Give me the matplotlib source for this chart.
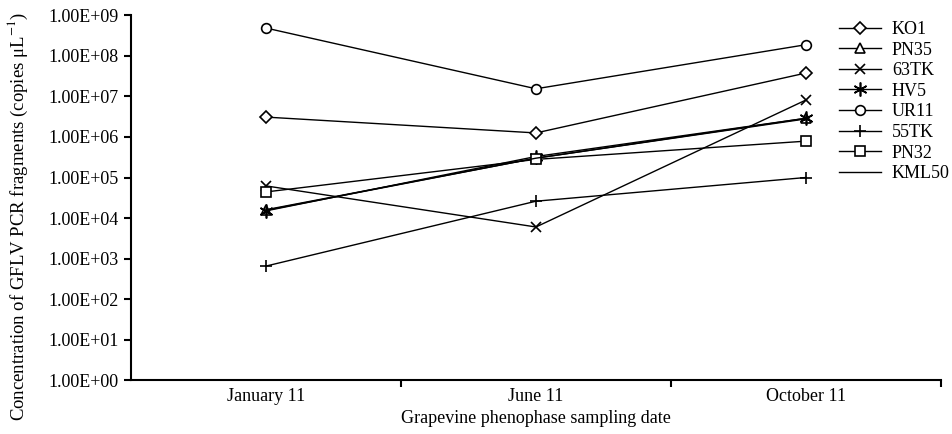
import matplotlib
matplotlib.use('Agg')
import matplotlib.pyplot as plt
from matplotlib.ticker import FixedLocator, FuncFormatter, NullFormatter

plt.rcParams['font.family'] = ['Liberation Serif', 'DejaVu Serif']
plt.rcParams['mathtext.fontset'] = 'stix'

# sampling dates (categories)
dates = ['January 11', 'June 11', 'October 11']

# GFLV concentrations per isolate (copies per uL)
ko1 = [3.1e6, 1.26e6, 3.8e7]
pn35 = [1.6e4, 3.0e5, 2.9e6]
tk63 = [6.2e4, 6.0e3, 8.2e6]
hv5 = [1.5e4, 3.3e5, 2.9e6]
ur11 = [4.9e8, 1.55e7, 1.9e8]
tk55 = [650, 2.6e4, 1.0e5]
pn32 = [4.4e4, 2.8e5, 7.9e5]
kml50 = [1.55e4, 3.0e5, 2.8e6]

series = [
    ('KO1', ko1, 'D', 6.5),
    ('PN35', pn35, '^', 7),
    ('63TK', tk63, 'x', 7),
    ('HV5', hv5, (6, 2, 0), 10),
    ('UR11', ur11, 'o', 7),
    ('55TK', tk55, '+', 8),
    ('PN32', pn32, 's', 7),
    ('KML50', kml50, None, 7),
]

fig = plt.figure(figsize=(9.52, 4.34), dpi=100)
ax = fig.add_axes([0.1376, 0.1244, 0.8508, 0.8399])

x = list(range(len(dates)))
for name, vals, mk, ms in series:
    ax.plot(x, vals, color='black', lw=1.0, marker=mk, markersize=ms,
            markerfacecolor='white', markeredgecolor='black', markeredgewidth=1.2,
            label=name)

ax.set_yscale('log')
ax.set_ylim(1, 1e9)
ax.set_xlim(-0.5, 2.5)

ax.yaxis.set_major_locator(FixedLocator([10.0 ** k for k in range(10)]))
ax.yaxis.set_minor_locator(FixedLocator([]))
ax.yaxis.set_major_formatter(FuncFormatter(lambda v, p: f'{v:.2E}'))

# boundaries between categories carry the tick marks, labels sit in the middle
ax.xaxis.set_major_locator(FixedLocator([0.5, 1.5, 2.5]))
ax.xaxis.set_major_formatter(NullFormatter())
ax.set_xticks(x, dates, minor=True)
ax.tick_params(axis='x', which='minor', length=0, pad=6, labelsize=13)
ax.tick_params(axis='x', which='major', length=5, width=1.5, direction='out')
ax.tick_params(axis='y', length=5, width=1.5, direction='out', pad=4, labelsize=13)

for s in ['top', 'right']:
    ax.spines[s].set_visible(False)
for s in ['left', 'bottom']:
    ax.spines[s].set_linewidth(1.5)

ax.set_xlabel('Grapevine phenophase sampling date', fontsize=13, labelpad=3)
ax.set_ylabel(r'Concentration of GFLV PCR fragments (copies μL$^{-1}$)', fontsize=13.5)
ax.yaxis.set_label_coords(-0.125, 0.45)

ax.legend(loc='upper left', bbox_to_anchor=(0.868, 1.0), frameon=False, fontsize=13,
          handlelength=2.3, handletextpad=0.6, labelspacing=0.2, borderaxespad=0.0,
          borderpad=0.3)

fig.savefig('out.png', dpi=100)
